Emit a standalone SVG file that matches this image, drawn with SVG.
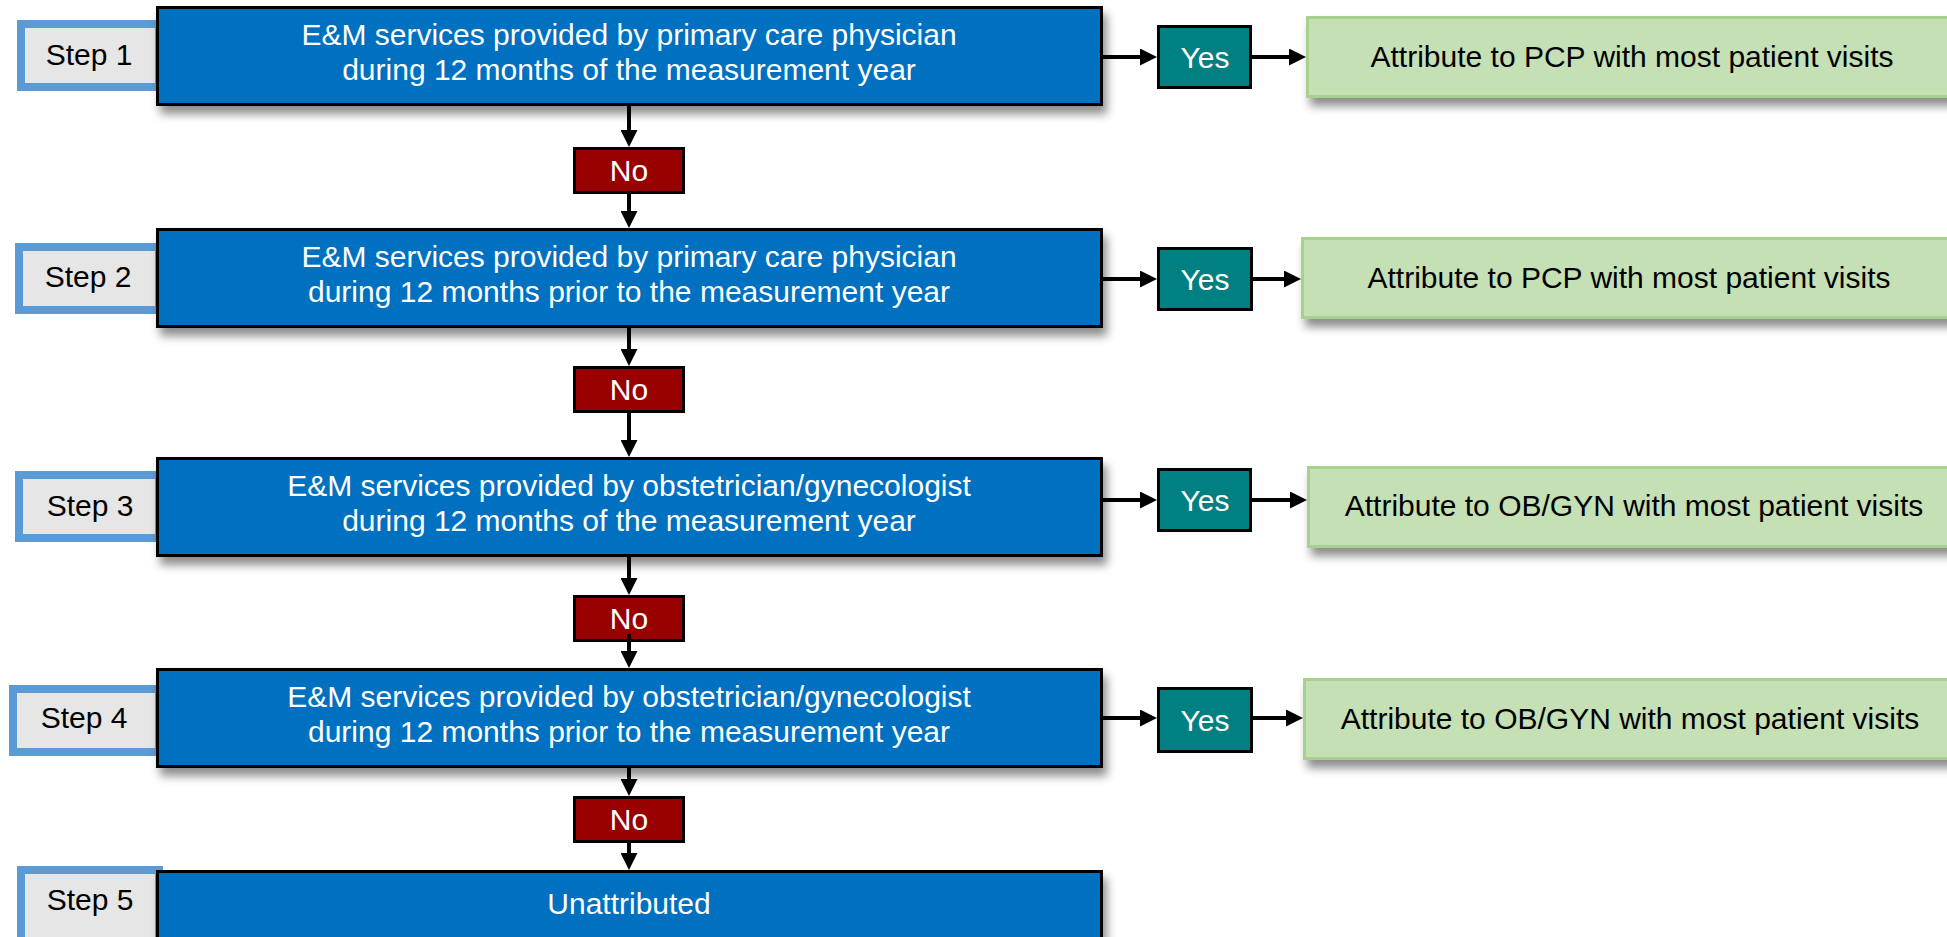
<svg xmlns="http://www.w3.org/2000/svg" width="1947" height="937" viewBox="0 0 1947 937">
<defs>
<filter id="sh" x="-5%" y="-20%" width="115%" height="160%">
<feDropShadow dx="4" dy="8" stdDeviation="5" flood-color="#000" flood-opacity="0.45"/>
</filter>
<marker id="ah" markerUnits="userSpaceOnUse" markerWidth="17" markerHeight="17" refX="9" refY="8.5" orient="auto">
<path d="M0,0 L17,8.5 L0,17 z" fill="#000"/>
</marker>
<style>
text{font-family:"Liberation Sans",Arial,sans-serif;font-size:30px;text-anchor:middle}
.step rect{fill:#E6E6E6;stroke:#5B9BD5;stroke-width:8}
.step text{fill:#000}
.main rect{fill:#0070C0;stroke:#000;stroke-width:3;filter:url(#sh)}
.main text{fill:#fff}
.yes rect{fill:#008080;stroke:#000;stroke-width:3}
.yes text{fill:#fff}
.no rect{fill:#990000;stroke:#000;stroke-width:3}
.no text{fill:#fff}
.res rect{fill:#C5E0B4;stroke:#A9D18E;stroke-width:3;filter:url(#sh)}
.res text{fill:#000}
.conn line{stroke:#000;stroke-width:4;marker-end:url(#ah)}
</style>
</defs>
<rect width="1947" height="937" fill="#fff"/>

<g id="step1" class="step"><rect x="21" y="24" width="138" height="63"/><text x="89" y="65">Step 1</text></g>
<g id="step2" class="step"><rect x="19" y="247" width="140" height="63"/><text x="88" y="287">Step 2</text></g>
<g id="step3" class="step"><rect x="19" y="475" width="140" height="63"/><text x="90" y="516">Step 3</text></g>
<g id="step4" class="step"><rect x="13" y="689" width="146" height="63"/><text x="84" y="728">Step 4</text></g>
<g id="step5" class="step"><rect x="21" y="870" width="138" height="90"/><text x="90" y="910">Step 5</text></g>

<g id="box1" class="main"><rect x="157.5" y="7.5" width="944" height="97"/>
<text x="629" y="45">E&amp;M services provided by primary care physician</text>
<text x="629" y="80">during 12 months of the measurement year</text></g>
<g id="box2" class="main"><rect x="157.5" y="229.5" width="944" height="97"/>
<text x="629" y="267">E&amp;M services provided by primary care physician</text>
<text x="629" y="302">during 12 months prior to the measurement year</text></g>
<g id="box3" class="main"><rect x="157.5" y="458.5" width="944" height="97"/>
<text x="629" y="496">E&amp;M services provided by obstetrician/gynecologist</text>
<text x="629" y="531">during 12 months of the measurement year</text></g>
<g id="box4" class="main"><rect x="157.5" y="669.5" width="944" height="97"/>
<text x="629" y="707">E&amp;M services provided by obstetrician/gynecologist</text>
<text x="629" y="742">during 12 months prior to the measurement year</text></g>
<g id="box5" class="main"><rect x="157.5" y="871.5" width="944" height="100"/>
<text x="629" y="914">Unattributed</text></g>

<g id="no1" class="no"><rect x="574.5" y="148.5" width="109" height="44"/><text x="629" y="180.5">No</text></g>
<g id="no2" class="no"><rect x="574.5" y="367.5" width="109" height="44"/><text x="629" y="399.5">No</text></g>
<g id="no3" class="no"><rect x="574.5" y="596.5" width="109" height="44"/><text x="629" y="628.5">No</text></g>
<g id="no4" class="no"><rect x="574.5" y="797.5" width="109" height="44"/><text x="629" y="829.5">No</text></g>

<g id="yes1" class="yes"><rect x="1158.5" y="26.5" width="92" height="61"/><text x="1205" y="67.5">Yes</text></g>
<g id="yes2" class="yes"><rect x="1158.5" y="248.5" width="93" height="61"/><text x="1205" y="289.5">Yes</text></g>
<g id="yes3" class="yes"><rect x="1158.5" y="469.5" width="92" height="61"/><text x="1205" y="510.5">Yes</text></g>
<g id="yes4" class="yes"><rect x="1158.5" y="688.5" width="93" height="63"/><text x="1205" y="730.5">Yes</text></g>

<g id="res1" class="res"><rect x="1307.5" y="17.5" width="660" height="79"/><text x="1632" y="67">Attribute to PCP with most patient visits</text></g>
<g id="res2" class="res"><rect x="1302.5" y="238.5" width="660" height="79"/><text x="1629" y="288">Attribute to PCP with most patient visits</text></g>
<g id="res3" class="res"><rect x="1308.5" y="467.5" width="660" height="79"/><text x="1634" y="516">Attribute to OB/GYN with most patient visits</text></g>
<g id="res4" class="res"><rect x="1304.5" y="679.5" width="660" height="79"/><text x="1630" y="729">Attribute to OB/GYN with most patient visits</text></g>

<g id="connectors" class="conn">
<line x1="629" y1="106" x2="629" y2="139"/>
<line x1="629" y1="194" x2="629" y2="220"/>
<line x1="629" y1="328" x2="629" y2="358"/>
<line x1="629" y1="413" x2="629" y2="449"/>
<line x1="629" y1="557" x2="629" y2="587"/>
<line x1="629" y1="634" x2="629" y2="660"/>
<line x1="629" y1="768" x2="629" y2="788"/>
<line x1="629" y1="843" x2="629" y2="862"/>
<line x1="1103" y1="57" x2="1149" y2="57"/>
<line x1="1252" y1="57" x2="1298" y2="57"/>
<line x1="1103" y1="279" x2="1149" y2="279"/>
<line x1="1253" y1="279" x2="1293" y2="279"/>
<line x1="1103" y1="500" x2="1149" y2="500"/>
<line x1="1252" y1="500" x2="1299" y2="500"/>
<line x1="1103" y1="718" x2="1149" y2="718"/>
<line x1="1253" y1="718" x2="1295" y2="718"/>
</g>
</svg>
